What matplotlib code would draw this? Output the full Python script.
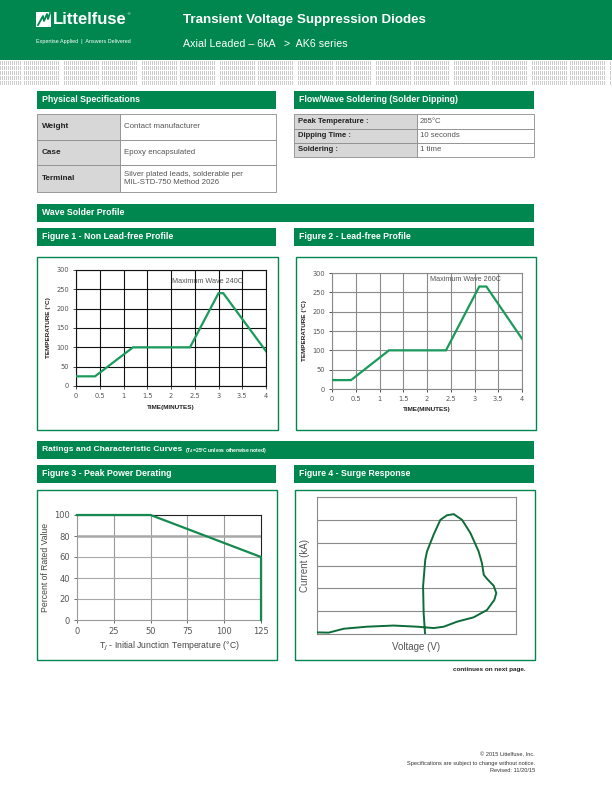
import numpy as np
import matplotlib
matplotlib.use("Agg")
import matplotlib.pyplot as plt
from matplotlib.patches import Rectangle

W, H = 612, 792
GREEN = "#00874F"
LINE_GREEN = "#1A9A5C"
DARK_LINE = "#0E6B3A"
NARROW = ["Liberation Sans Narrow", "Liberation Sans", "DejaVu Sans"]
SANS = ["Liberation Sans", "DejaVu Sans"]

# ---------------- data ----------------
phys_labels = ["Weight", "Case", "Terminal"]
phys_values = ["Contact manufacturer", "Epoxy encapsulated",
               "Silver plated leads, solderable per\nMIL-STD-750 Method 2026"]
flow_labels = ["Peak Temperature :", "Dipping Time :", "Soldering :"]
flow_values = ["265°C", "10 seconds", "1 time"]

fig1_time = [0, 0.4, 1.2, 2.4, 3.0, 3.1, 4.0]
fig1_temp = [25, 25, 100, 100, 240, 240, 90]
fig2_time = [0, 0.4, 1.2, 2.4, 3.1, 3.25, 4.0]
fig2_temp = [23, 23, 100, 100, 265, 265, 130]
profile_xticks = [0, 0.5, 1, 1.5, 2, 2.5, 3, 3.5, 4]
profile_xticklabels = ["0", "0.5", "1", "1.5", "2", "2.5", "3", "3.5", "4"]
profile_yticks = [0, 50, 100, 150, 200, 250, 300]

fig3_tj = [0, 50, 125, 125]
fig3_pct = [100, 100, 60, 0]
fig3_xticks = [0, 25, 50, 75, 100, 125]
fig3_yticks = [0, 20, 40, 60, 80, 100]

fig4_v = [0, 0.59, 1.34, 2.5, 3.85, 5.03, 5.86, 6.37, 7.04, 7.87, 8.54, 8.91, 9.01,
          8.88, 8.54, 8.38, 8.29, 8.12, 7.71, 7.29, 6.87, 6.53, 6.2, 5.86, 5.53,
          5.44, 5.33, 5.36, 5.43]
fig4_i = [0.07, 0.06, 0.23, 0.32, 0.37, 0.32, 0.26, 0.32, 0.54, 0.73, 1.05, 1.49, 1.79,
          2.11, 2.42, 2.59, 3.1, 3.62, 4.42, 5.0, 5.25, 5.2, 5.0, 4.35, 3.62,
          3.25, 2.08, 0.91, 0.0]

# ---------------- helpers ----------------
fig = plt.figure(figsize=(6.12, 7.92), dpi=100)


def fx(x):
    return x / W


def fy(y):
    return 1 - y / H


def rect(x0, y0, x1, y1, **kw):
    fig.patches.append(Rectangle((fx(x0), fy(y1)), (x1 - x0) / W, (y1 - y0) / H,
                                 transform=fig.transFigure, **kw))


def text(x, y, s, **kw):
    kw.setdefault("va", "center")
    fig.text(fx(x), fy(y), s, **kw)


def ax_at(x0, y0, x1, y1):
    return fig.add_axes([fx(x0), fy(y1), (x1 - x0) / W, (y1 - y0) / H])


def bar(x0, y0, x1, y1, label, size=6.3):
    rect(x0, y0, x1, y1, facecolor=GREEN, edgecolor="none")
    text(x0 + 5, (y0 + y1) / 2, label, color="white", fontsize=size,
         fontweight="bold", family=NARROW)


# ---------------- header ----------------
rect(0, 0, 612, 59.5, facecolor=GREEN, edgecolor="none")
# patterned strip
ph = 24
pat = np.ones((ph, W, 3))
yy, xx = np.mgrid[0:ph, 0:W]
mask = (xx % 2 == 0) & ((yy % 5) != 4)
gaps = ((xx // 3) % 13 == 7)
mask &= ~gaps
pat[mask] = [0.80, 0.80, 0.80]
fig.figimage(pat, xo=0, yo=H - 85)

# logo
rect(36, 12, 51, 26.5, facecolor="white", edgecolor="none")
fig.lines.append(plt.Line2D([fx(38), fx(43), fx(44), fx(47), fx(48), fx(50)],
                            [fy(25), fy(16), fy(21), fy(14), fy(19), fy(13)],
                            transform=fig.transFigure, color=GREEN, lw=1.3))
text(53, 19.5, "Littelfuse", color="white", fontsize=12, fontweight="bold",
     family=NARROW)
text(126.5, 14, "®", color="white", fontsize=3)
text(36, 41.5, "Expertise Applied  |  Answers Delivered", color="white",
     fontsize=3.9, family=NARROW)
text(183, 20, "Transient Voltage Suppression Diodes", color="white",
     fontsize=9.6, fontweight="bold", family=NARROW)
text(183, 44, "Axial Leaded – 6kA   >  AK6 series", color="white",
     fontsize=7.7, family=NARROW)

# ---------------- physical specifications ----------------
bar(37, 91, 276, 108.5, "Physical Specifications")
rows1 = [(114, 140), (140, 165), (165, 192)]
for (y0, y1), lab, val in zip(rows1, phys_labels, phys_values):
    rect(37, y0, 120, y1, facecolor="#D7D7D7", edgecolor="#8C8C8C", lw=0.6)
    rect(120, y0, 276, y1, facecolor="white", edgecolor="#8C8C8C", lw=0.6)
    text(42, (y0 + y1) / 2, lab, fontsize=5.9, fontweight="bold",
         color="#222222", family=SANS)
    text(124, (y0 + y1) / 2, val, fontsize=5.7, color="#555555",
         family=SANS, linespacing=1.35)

bar(294, 91, 534, 108.5, "Flow/Wave Soldering (Solder Dipping)")
rows2 = [(114, 128.5), (128.5, 142.5), (142.5, 157)]
for (y0, y1), lab, val in zip(rows2, flow_labels, flow_values):
    rect(294, y0, 417, y1, facecolor="#D7D7D7", edgecolor="#8C8C8C", lw=0.6)
    rect(417, y0, 534, y1, facecolor="white", edgecolor="#8C8C8C", lw=0.6)
    text(298, (y0 + y1) / 2, lab, fontsize=5.5, fontweight="bold",
         color="#222222", family=SANS)
    text(420, (y0 + y1) / 2, val, fontsize=5.6, color="#555555", family=SANS)

# ---------------- wave solder profile ----------------
bar(37, 204, 534, 221.5, "Wave Solder Profile")
bar(37, 228, 276, 245.5, "Figure 1 - Non Lead-free Profile")
bar(294, 228, 534, 245.5, "Figure 2 - Lead-free Profile")
rect(36.5, 256.5, 277.5, 429.5, facecolor="none", edgecolor=GREEN, lw=1.0)
rect(295.5, 256.5, 535.5, 429.5, facecolor="none", edgecolor=GREEN, lw=1.0)


def profile_axes(ax, t, temp, gridcol, note, note_xy):
    ax.plot(t, temp, color=LINE_GREEN, lw=1.6, solid_joinstyle="miter", zorder=3)
    ax.set_xlim(0, 4)
    ax.set_ylim(0, 300)
    ax.set_xticks(profile_xticks)
    ax.set_xticklabels(profile_xticklabels)
    ax.set_yticks(profile_yticks)
    ax.grid(True, color=gridcol, lw=0.8)
    ax.tick_params(length=2, width=0.6, labelsize=4.8, colors="#333333",
                   labelcolor="#555555", pad=3)
    for s in ax.spines.values():
        s.set_color(gridcol)
        s.set_linewidth(0.8)
    ax.text(note_xy[0], note_xy[1], note, fontsize=5.2, color="#555555",
            ha="center", va="center", family=SANS)
    ax.set_xlabel("TIME(MINUTES)", fontsize=4.6, fontweight="bold",
                  family=NARROW, labelpad=4, color="#222222")
    ax.set_ylabel("TEMPERATURE (°C)", fontsize=4.6, fontweight="bold",
                  family=NARROW, labelpad=4, color="#222222")


ax1 = ax_at(76, 270, 266, 386)
profile_axes(ax1, fig1_time, fig1_temp, "#111111", "Maximum Wave 240C", (2.76, 269))
ax2 = ax_at(332, 273, 522, 389)
profile_axes(ax2, fig2_time, fig2_temp, "#8A8A8A", "Maximum Wave 260C", (2.82, 284))

# ---------------- ratings ----------------
rect(37, 441, 534, 458.5, facecolor=GREEN, edgecolor="none")
text(42, 449.7, "Ratings and Characteristic Curves", color="white",
     fontsize=6.1, fontweight="bold", family=NARROW)
text(185, 450.5, "(T$_A$=25°C unless otherwise noted)", color="white",
     fontsize=3.6, fontweight="bold", family=NARROW)
bar(37, 465, 276, 482.5, "Figure 3 - Peak Power Derating")
bar(294, 465, 534, 482.5, "Figure 4 - Surge Response")
rect(36.5, 489.5, 276.5, 659.5, facecolor="none", edgecolor=GREEN, lw=1.0)
rect(294.5, 489.5, 534.5, 659.5, facecolor="none", edgecolor=GREEN, lw=1.0)

# Figure 3
ax3 = ax_at(77, 515, 261, 620)
ax3.set_xlim(0, 125)
ax3.set_ylim(0, 100)
ax3.set_xticks(fig3_xticks)
ax3.set_yticks(fig3_yticks)
for xv in fig3_xticks[1:-1]:
    ax3.axvline(xv, color="#9A9A9A", lw=0.8, zorder=1)
for yv in fig3_yticks[1:-1]:
    ax3.axhline(yv, color="#A8A8A8", lw=1.8 if yv == 80 else 0.8, zorder=1)
ax3.plot(fig3_tj, fig3_pct, color="#15894F", lw=1.6, zorder=3, clip_on=False)
ax3.tick_params(length=2, width=0.6, labelsize=6, colors="#555555", pad=3)
ax3.spines["top"].set_color("#222222")
ax3.spines["right"].set_color("#222222")
ax3.spines["left"].set_color("#9A9A9A")
ax3.spines["bottom"].set_color("#9A9A9A")
for s in ax3.spines.values():
    s.set_linewidth(0.8)
ax3.set_ylabel("Percent of Rated Value", fontsize=6.2, color="#444444",
               family=SANS, labelpad=3)
ax3.set_xlabel("T$_J$ - Initial Junction Temperature (°C)", fontsize=6.2,
               color="#444444", family=SANS, labelpad=3)

# Figure 4
ax4 = ax_at(317, 497, 516, 634)
ax4.set_xlim(0, 10)
ax4.set_ylim(0, 6)
ax4.set_xticks([])
ax4.set_yticks([])
for yv in range(1, 6):
    ax4.axhline(yv, color="#8A8A8A", lw=0.8, zorder=1)
ax4.plot(fig4_v, fig4_i, color=DARK_LINE, lw=1.4, zorder=3,
         solid_joinstyle="round", solid_capstyle="butt")
for s in ax4.spines.values():
    s.set_color("#8A8A8A")
    s.set_linewidth(0.8)
ax4.set_ylabel("Current (kA)", fontsize=7, color="#555555", family=SANS,
               labelpad=5)
ax4.set_xlabel("Voltage (V)", fontsize=7, color="#555555", family=SANS,
               labelpad=6)

# ---------------- footer ----------------
text(526, 669, "continues on next page.", fontsize=4.6, fontweight="bold",
     ha="right", family=NARROW, color="#222222")
text(535, 755, "© 2015 Littelfuse, Inc.", fontsize=4.1, ha="right",
     family=NARROW, color="#333333")
text(535, 763, "Specifications are subject to change without notice.",
     fontsize=4.1, ha="right", family=NARROW, color="#333333")
text(535, 771, "Revised: 11/20/15", fontsize=4.1, ha="right",
     family=NARROW, color="#333333")

fig.savefig("out.png", dpi=100)
